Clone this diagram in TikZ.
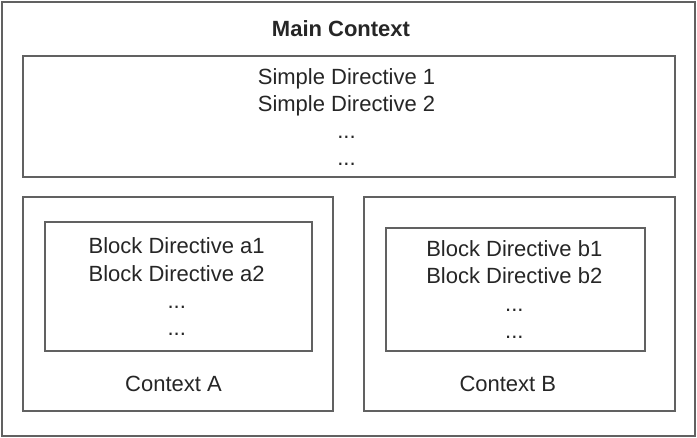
\documentclass[tikz,border=0pt]{standalone}
\usepackage{fontspec}
\setmainfont{Liberation Sans}
\begin{document}
\begin{tikzpicture}[x=1pt,y=-1pt,
  frame/.style={draw=black!62, line width=1.3pt, inner sep=0pt, fill=none},
  label/.style={anchor=base, inner sep=0pt, text=black!85, font=\fontsize{22}{27}\selectfont},
  title/.style={label, font=\fontsize{22}{27}\selectfont\bfseries}]
  \useasboundingbox (0,0) rectangle (697,438);
  \fill[white] (0,0) rectangle (697,438);

  % containers
  \node[frame, minimum width=693pt, minimum height=434pt] (main) at (348.5,219) {};
  \node[frame, minimum width=652pt, minimum height=121pt] (simple) at (349,116.5) {};
  \node[frame, minimum width=310pt, minimum height=214pt] (ctxA) at (178,304) {};
  \node[frame, minimum width=267pt, minimum height=129pt] (blockA) at (178.5,286.5) {};
  \node[frame, minimum width=311pt, minimum height=214pt] (ctxB) at (519.5,304) {};
  \node[frame, minimum width=259pt, minimum height=123pt] (blockB) at (515.5,289.5) {};

  % texts
  \node[title] (mainT) at (341,37) {Main Context};

  \node[label] (s1) at (346.5,85) {Simple Directive 1};
  \node[label] (s2) at (346.5,112) {Simple Directive 2};
  \node[label] (s3) at (346.5,139) {...};
  \node[label] (s4) at (346.5,166) {...};

  \node[label] (a1) at (176.7,254) {Block Directive a1};
  \node[label] (a2) at (176.7,281.5) {Block Directive a2};
  \node[label] (a3) at (176.7,308.5) {...};
  \node[label] (a4) at (176.7,336) {...};
  \node[label] (ctxAT) at (173.5,391.5) {Context A};

  \node[label] (b1) at (514.3,257) {Block Directive b1};
  \node[label] (b2) at (514.3,284) {Block Directive b2};
  \node[label] (b3) at (514.3,311.5) {...};
  \node[label] (b4) at (514.3,338.5) {...};
  \node[label] (ctxBT) at (507.8,391.5) {Context B};
\end{tikzpicture}
\end{document}
